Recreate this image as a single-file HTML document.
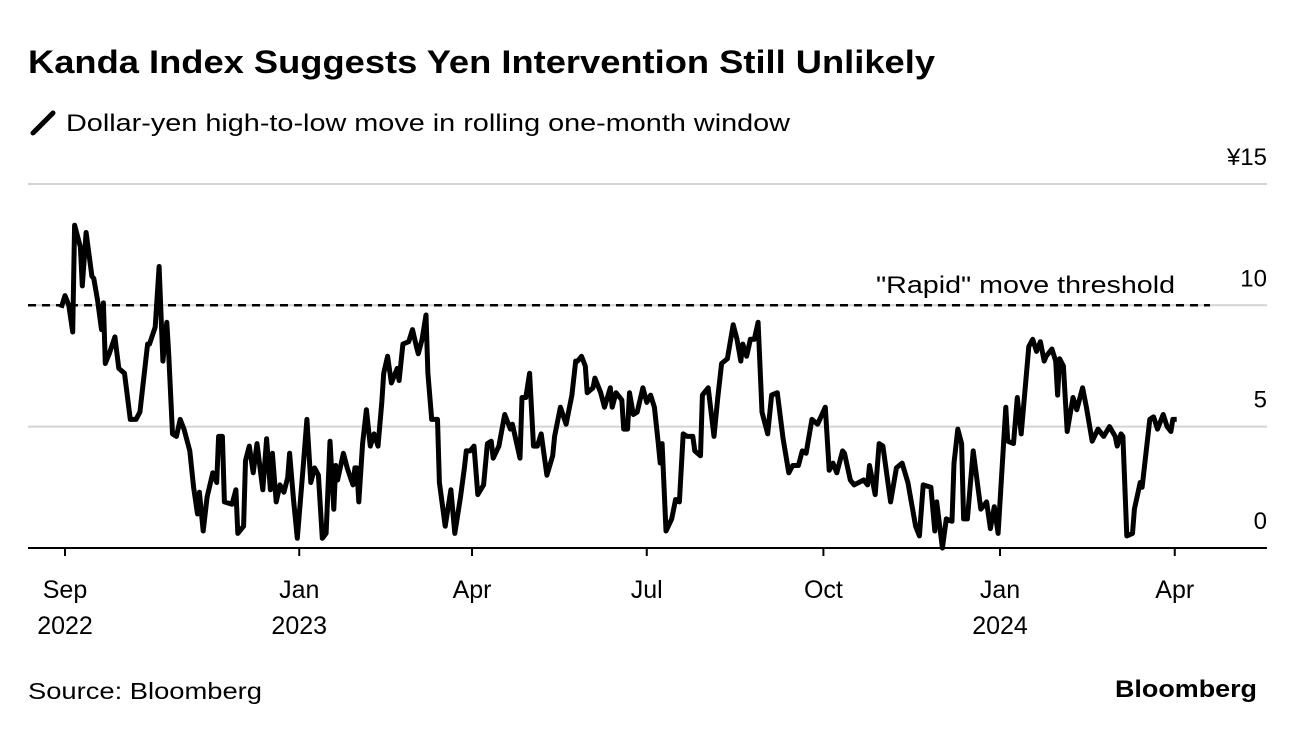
<!DOCTYPE html>
<html><head><meta charset="utf-8">
<style>
body{margin:0;background:#fff;font-family:"Liberation Sans",Arial,sans-serif;}
svg{display:block}
</style></head>
<body>
<svg width="1296" height="732" viewBox="0 0 1296 732">
<text x="28" y="73" font-size="32" font-weight="bold" fill="#000" textLength="907" lengthAdjust="spacingAndGlyphs">Kanda Index Suggests Yen Intervention Still Unlikely</text>
<line x1="33" y1="133" x2="53" y2="113" stroke="#000" stroke-width="5" stroke-linecap="round"/>
<text x="66" y="131" font-size="24" fill="#000" textLength="724" lengthAdjust="spacingAndGlyphs">Dollar-yen high-to-low move in rolling one-month window</text>
<g id="grid"></g>
<g id="xaxis"></g>
<line x1="28" y1="305" x2="1210" y2="305" stroke="#000" stroke-width="2.5" stroke-dasharray="8,6" id="thr"/>
<text x="876" y="293" font-size="24" fill="#000" textLength="299" lengthAdjust="spacingAndGlyphs">"Rapid" move threshold</text>
<path id="series" fill="none" stroke="#000" stroke-width="5" stroke-linejoin="round"/>
<text x="28" y="699" font-size="23" fill="#000" textLength="234" lengthAdjust="spacingAndGlyphs">Source: Bloomberg</text>
<text x="1115" y="697" font-size="24" font-weight="bold" fill="#000" textLength="142" lengthAdjust="spacingAndGlyphs">Bloomberg</text>
</svg>
<script>
const days=[-2,0,2,4,5,8,9,11,14,15,17,19,20,21,23,26,28,31,34,37,39,43,44,47,49,51,53,54,56,58,60,62,65,67,69,70,72,74,77,79,80,82,83,87,89,90,93,94,96,98,100,103,105,107,108,110,112,114,116,117,119,121,124,126,128,130,132,134,136,138,140,141,142,145,147,150,151,152,153,155,157,159,161,163,165,166,168,170,173,174,176,179,181,183,184,186,188,189,191,194,195,198,201,203,206,208,209,211,213,215,218,220,222,223,226,229,232,233,237,238,240,242,244,246,248,251,254,255,258,261,264,266,267,269,271,272,275,276,279,281,284,285,287,290,291,293,294,296,298,301,303,305,307,309,310,311,313,316,318,320,322,324,327,328,331,332,335,338,340,342,345,348,350,352,353,355,357,359,361,363,366,368,371,374,377,379,382,384,386,389,392,396,398,400,402,405,406,409,411,416,418,419,422,424,426,430,433,436,439,443,445,447,451,453,454,457,459,462,463,465,467,468,470,473,477,480,482,484,486,490,491,494,496,498,502,504,506,508,510,511,514,516,517,518,520,522,525,527,530,532,535,538,541,544,547,548,550,551,553,556,557,560,561,565,567,569,572,574,576,577,579];
const values=[9.9,10.4,10.0,8.9,13.3,12.4,10.8,13.0,11.2,11.1,10.2,9.0,10.1,7.6,8.0,8.7,7.4,7.2,5.3,5.3,5.6,8.4,8.4,9.1,11.6,7.7,9.3,8.0,4.7,4.6,5.3,4.9,4.0,2.5,1.4,2.3,0.7,2.1,3.1,2.7,4.6,4.6,1.9,1.8,2.4,0.6,0.9,3.6,4.2,3.1,4.3,2.4,4.5,2.4,3.9,1.9,2.6,2.3,2.9,3.9,2.0,0.4,3.3,5.3,2.7,3.3,3.0,0.4,0.6,4.4,1.6,3.4,2.8,3.9,3.3,2.6,3.3,3.3,1.9,4.3,5.7,4.2,4.7,4.2,6.0,7.2,7.9,6.8,7.4,6.9,8.4,8.5,9.0,8.3,8.0,8.6,9.6,7.2,5.3,5.3,2.7,0.9,2.4,0.6,2.1,3.3,4.0,4.0,4.2,2.2,2.6,4.3,4.4,3.7,4.2,5.5,4.9,5.1,3.7,6.2,6.2,7.2,4.2,4.2,4.7,3.0,3.8,4.6,5.8,5.1,6.3,7.7,7.7,7.9,7.5,6.4,6.6,7.0,6.4,5.8,6.6,5.8,6.4,6.1,4.9,4.9,6.4,5.5,5.6,6.6,6.0,6.3,5.8,4.3,3.5,4.3,0.7,1.2,2.0,1.9,4.7,4.6,4.6,4.0,3.8,6.3,6.6,4.6,6.2,7.6,7.8,9.2,8.6,7.7,8.4,7.9,8.6,8.6,9.3,5.6,4.7,6.3,6.4,4.5,3.1,3.4,3.4,4.0,3.9,5.3,5.1,5.8,3.2,3.5,3.1,4.0,3.9,2.8,2.6,2.8,2.6,3.4,2.2,4.3,4.2,1.9,3.3,3.5,2.7,0.9,0.5,2.6,2.5,0.7,1.9,0.0,1.2,1.1,3.5,4.9,4.3,1.2,1.2,4.0,1.6,1.9,0.8,1.7,0.6,5.8,4.4,4.3,6.2,4.7,8.3,8.6,8.1,8.5,7.7,7.9,8.2,7.7,6.3,7.8,7.5,4.8,6.2,5.7,6.6,5.8,4.4,4.9,4.6,5.0,4.6,4.2,4.7,4.6,0.5,0.6,1.6,2.7,2.5,5.3,5.4,4.9,5.5,5.0,4.8,5.3,5.3];
const yTicks=[0,5,10,15];
const yTickLabels=["0","5","10","¥15"];
const xTickDays=[0,122,212,303,395,487,578];
const xTickLine1=["Sep","Jan","Apr","Jul","Oct","Jan","Apr"];
const xTickLine2=["2022","2023","","","","2024",""];
const threshold=10;
const NS="http://www.w3.org/2000/svg";
const xs=d=>65+d*1.92;
const ys=v=>548-v*24.27;
const grid=document.getElementById('grid');
yTicks.forEach((t,i)=>{
  if(t!==0){
    const l=document.createElementNS(NS,'line');
    l.setAttribute('x1',28);l.setAttribute('x2',1267);
    l.setAttribute('y1',ys(t));l.setAttribute('y2',ys(t));
    l.setAttribute('stroke','#d4d4d4');l.setAttribute('stroke-width','2');
    
    
    grid.appendChild(l);
  }
  const tx=document.createElementNS(NS,'text');
  tx.setAttribute('x',1267);tx.setAttribute('y',ys(t)-19);
  tx.setAttribute('text-anchor','end');tx.setAttribute('font-size','24');
  tx.textContent=yTickLabels[i];
  
  
  grid.appendChild(tx);
});
const base=document.createElementNS(NS,'line');
base.setAttribute('x1',28);base.setAttribute('x2',1267);
base.setAttribute('y1',ys(0));base.setAttribute('y2',ys(0));
base.setAttribute('stroke','#000');base.setAttribute('stroke-width','2');


grid.appendChild(base);
document.getElementById('thr').setAttribute('y1',ys(threshold));
document.getElementById('thr').setAttribute('y2',ys(threshold));
const xa=document.getElementById('xaxis');
xTickDays.forEach((d,i)=>{
  const l=document.createElementNS(NS,'line');
  l.setAttribute('x1',xs(d));l.setAttribute('x2',xs(d));
  l.setAttribute('y1',ys(0));l.setAttribute('y2',ys(0)+8);
  l.setAttribute('stroke','#000');l.setAttribute('stroke-width','2');
  
  
  xa.appendChild(l);
  const t=document.createElementNS(NS,'text');
  t.setAttribute('x',xs(d));t.setAttribute('y',598);
  t.setAttribute('text-anchor','middle');t.setAttribute('font-size','25');
  t.textContent=xTickLine1[i];
  
  
  xa.appendChild(t);
  if(xTickLine2[i]){
    const t2=document.createElementNS(NS,'text');
    t2.setAttribute('x',xs(d));t2.setAttribute('y',634);
    t2.setAttribute('text-anchor','middle');t2.setAttribute('font-size','25');
    t2.textContent=xTickLine2[i];
    
    
    xa.appendChild(t2);
  }
});
document.getElementById('series').setAttribute('d',days.map((d,i)=>(i?'L':'M')+xs(d).toFixed(1)+','+ys(values[i]).toFixed(1)).join(''));
</script>
</body></html>
